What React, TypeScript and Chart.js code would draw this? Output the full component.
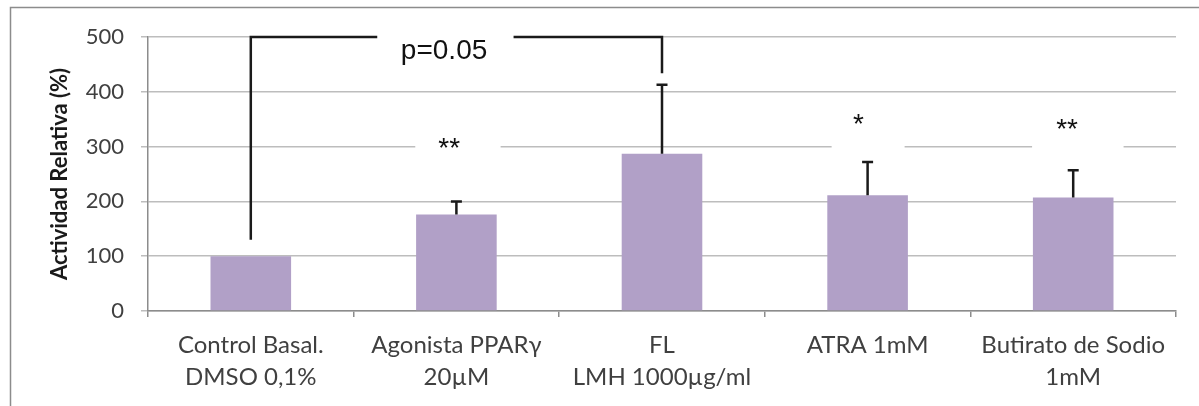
import React, { useEffect, useRef } from 'react';
import { Chart, registerables } from 'chart.js';

Chart.register(...registerables);

const categories: string[][] = [
  ['Control Basal.', 'DMSO 0,1%'],
  ['Agonista PPARγ', '20µM'],
  ['FL', 'LMH 1000µg/ml'],
  ['ATRA 1mM'],
  ['Butirato de Sodio', '1mM'],
];
const values = [100, 176, 287, 211, 207];
const errors = [0, 24, 126, 61, 50];
const yTickValues = [0, 100, 200, 300, 400, 500];

// significance marks: text, category index, x offset (in categories), value at glyph centre
const starTexts = ['**', '*', '**'];
const starCats = [1, 3, 4];
const starOffsets = [-0.035, -0.045, -0.03];
const starValues = [310, 354, 345];
// white masks behind star marks: [from offset, to offset, low value, high value]
const starMasks = [
  [-0.2, 0.215, 275, 335],
  [-0.175, 0.18, 285, 395],
  [-0.2, 0.245, 275, 335],
];

// bracket between control and FL
const bracketFrom = 0;
const bracketTo = 2;
const bracketValue = 500;
const bracketLegLow = [130, 434];
const pText = 'p=0.05';
const pOffset = 0.94; // relative to bracketFrom
const pValue = 478;
const pMask = [0.615, 1.278, 440, 530];

const BAR_COLOR = '#B1A0C7';

const overlay = {
  id: 'overlay',
  beforeDraw(chart: any) {
    const ctx = chart.ctx;
    ctx.save();
    ctx.fillStyle = '#ffffff';
    ctx.fillRect(0, 0, chart.width, chart.height);
    ctx.strokeStyle = '#8c8c8c';
    ctx.lineWidth = 1.5;
    ctx.strokeRect(10.5, 7.5, chart.width + 50, chart.height + 50);
    ctx.restore();
  },
  afterDatasetsDraw(chart: any) {
    const ctx = chart.ctx;
    const xs = chart.scales.x;
    const ys = chart.scales.y;
    const catW = xs.getPixelForValue(1) - xs.getPixelForValue(0);
    ctx.save();
    // star masks (hide gridlines behind the marks)
    ctx.fillStyle = '#ffffff';
    starMasks.forEach((m, k) => {
      const c = xs.getPixelForValue(starCats[k]);
      const xa = c + m[0] * catW;
      const xb = c + m[1] * catW;
      const ya = ys.getPixelForValue(m[3]);
      const yb = ys.getPixelForValue(m[2]);
      ctx.fillRect(xa, ya, xb - xa, yb - ya);
    });
    // error bars
    ctx.strokeStyle = '#1a1a1a';
    ctx.lineWidth = 2.5;
    values.forEach((v, i) => {
      if (!errors[i]) return;
      const x = xs.getPixelForValue(i);
      const y0 = ys.getPixelForValue(v);
      const y1 = ys.getPixelForValue(v + errors[i]);
      ctx.beginPath();
      ctx.moveTo(x, y0);
      ctx.lineTo(x, y1);
      ctx.moveTo(x - 5.5, y1);
      ctx.lineTo(x + 5.5, y1);
      ctx.stroke();
    });
    // bracket
    const bx0 = xs.getPixelForValue(bracketFrom);
    const bx1 = xs.getPixelForValue(bracketTo);
    const by = ys.getPixelForValue(bracketValue);
    ctx.strokeStyle = '#1a1a1a';
    ctx.lineWidth = 2.5;
    ctx.beginPath();
    ctx.moveTo(bx0, ys.getPixelForValue(bracketLegLow[0]));
    ctx.lineTo(bx0, by);
    ctx.lineTo(bx1, by);
    ctx.lineTo(bx1, ys.getPixelForValue(bracketLegLow[1]));
    ctx.stroke();
    // p mask
    const pxa = bx0 + pMask[0] * catW;
    const pxb = bx0 + pMask[1] * catW;
    const pya = ys.getPixelForValue(pMask[3]);
    const pyb = ys.getPixelForValue(pMask[2]);
    ctx.fillStyle = '#ffffff';
    ctx.fillRect(pxa, pya, pxb - pxa, pyb - pya);
    // texts
    ctx.fillStyle = '#111111';
    ctx.textAlign = 'center';
    ctx.textBaseline = 'alphabetic';
    const fs = 28;
    ctx.font = `${fs}px "Liberation Sans", Arial, sans-serif`;
    ctx.fillText(pText, bx0 + pOffset * catW, ys.getPixelForValue(pValue) + 0.358 * fs);
    starTexts.forEach((t, k) => {
      const x = xs.getPixelForValue(starCats[k]) + starOffsets[k] * catW;
      const y = ys.getPixelForValue(starValues[k]) + 0.57 * fs;
      ctx.fillText(t, x, y);
    });
    ctx.restore();
  },
};

export default function App() {
  const ref = useRef<HTMLCanvasElement | null>(null);
  useEffect(() => {
    document.body.style.margin = '0';
    const canvas = ref.current!;
    const chart = new Chart(canvas, {
      type: 'bar',
      data: {
        labels: categories as any,
        datasets: [
          {
            data: values,
            backgroundColor: BAR_COLOR,
            borderWidth: 0,
            categoryPercentage: 1,
            barPercentage: 0.392,
          },
        ],
      },
      options: {
        animation: false,
        responsive: false,
        devicePixelRatio: 1,
        layout: { padding: { left: 0, top: 37, right: 23, bottom: 0 } },
        plugins: { legend: { display: false }, tooltip: { enabled: false } },
        scales: {
          x: {
            grid: {
              offset: true,
              drawOnChartArea: false,
              drawTicks: true,
              tickLength: 6,
              color: '#8c8c8c',
              lineWidth: 1.5,
            },
            border: { color: '#8c8c8c', width: 1.5 },
            ticks: {
              color: '#404040',
              font: { family: 'Lato', size: 24, lineHeight: 1.333 },
              padding: 12,
              maxRotation: 0,
              autoSkip: false,
            },
            afterFit(scale: any) {
              scale.height = 95;
            },
          },
          y: {
            min: 0,
            max: 500,
            afterBuildTicks(scale: any) {
              scale.ticks = yTickValues.map((v) => ({ value: v }));
            },
            grid: { color: '#bdbdbd', lineWidth: 1.5, tickLength: 7 },
            border: { color: '#8c8c8c', width: 1.5 },
            ticks: {
              color: '#404040',
              font: { family: 'Lato', size: 22 },
              padding: 17,
            },
            title: {
              display: true,
              text: 'Actividad Relativa (%)',
              color: '#1a1a1a',
              font: { family: 'Lato', size: 22, weight: 'bold' },
              padding: { top: 47, bottom: 0 },
            },
            afterFit(scale: any) {
              scale.width = 148;
            },
          },
        },
      },
      plugins: [overlay],
    });
    return () => chart.destroy();
  }, []);
  return <canvas ref={ref} width={1199} height={406} style={{ display: 'block' }} />;
}
